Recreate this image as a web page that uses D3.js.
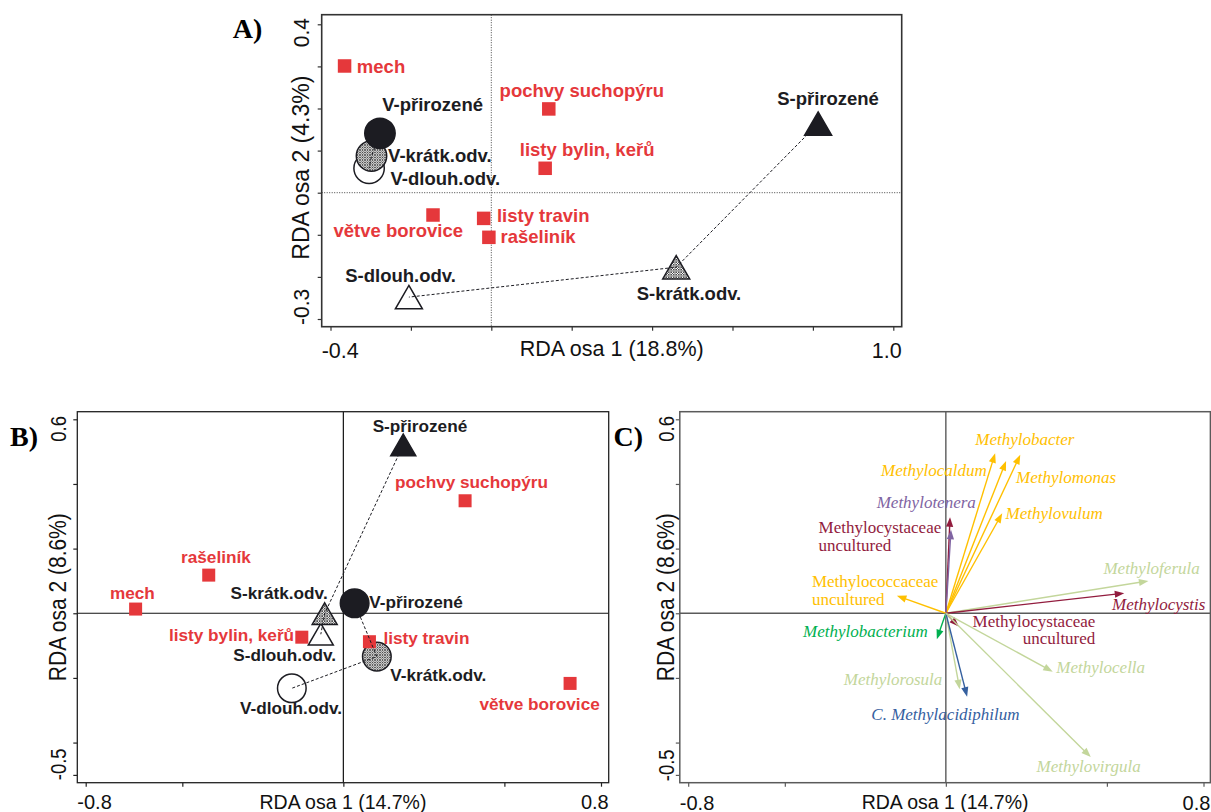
<!DOCTYPE html>
<html>
<head>
<meta charset="utf-8">
<script src="https://cdn.jsdelivr.net/npm/d3@7"></script>
<style>
  html, body { margin: 0; padding: 0; background: #fff; }
  svg { display: block; }
</style>
</head>
<body>
<svg id="fig" width="1211" height="812"></svg>
<script>
// ---------- RDA scores ----------
const sampleNames = ["V-přirozené", "V-krátk.odv.", "V-dlouh.odv.", "S-přirozené", "S-krátk.odv.", "S-dlouh.odv."];
const samplesA_x = [-0.277, -0.298, -0.304, 0.813, 0.460, -0.205];
const samplesA_y = [0.141, 0.087, 0.058, 0.164, -0.177, -0.248];
const samplesB_x = [0.035, 0.104, -0.160, 0.186, -0.058, -0.070];
const samplesB_y = [0.031, -0.134, -0.232, 0.521, -0.001, -0.065];

const substrateNames = ["mech", "pochvy suchopýru", "listy bylin, keřů", "větve borovice", "listy travin", "rašeliník"];
const substratesA_x = [-0.365, 0.143, 0.134, -0.145, -0.019, -0.006];
const substratesA_y = [0.301, 0.199, 0.058, -0.053, -0.061, -0.106];
const substratesB_x = [-0.645, 0.378, -0.129, 0.704, 0.081, -0.418];
const substratesB_y = [0.013, 0.348, -0.074, -0.217, -0.088, 0.118];

const taxaNames = ["Methylobacter", "Methylocaldum", "Methylomonas", "Methylovulum",
  "Methylocystaceae uncultured", "Methylotenera", "Methylococcaceae uncultured",
  "Methyloferula", "Methylocystis", "Methylobacterium", "Methylocystaceae uncultured",
  "Methylocella", "Methylorosula", "C. Methylacidiphilum", "Methylovirgula"];
const taxaX = [0.231, 0.153, 0.187, 0.175, 0.013, 0.016, -0.152, 0.629, 0.554, -0.028, 0.040, 0.332, 0.043, 0.066, 0.450];
const taxaY = [0.490, 0.495, 0.471, 0.309, 0.297, 0.258, 0.054, 0.100, 0.062, -0.080, -0.041, -0.181, -0.235, -0.258, -0.445];
const taxaFamily = ["Methylococcaceae", "Methylococcaceae", "Methylococcaceae", "Methylococcaceae",
  "Methylocystaceae", "Methylophilaceae", "Methylococcaceae",
  "Beijerinckiaceae", "Methylocystaceae", "Methylobacteriaceae", "Methylocystaceae",
  "Beijerinckiaceae", "Beijerinckiaceae", "Methylacidiphilaceae", "Beijerinckiaceae"];

// axis ticks
const ticksA_x = [-0.4, -0.2, 0, 0.2, 0.4, 0.6, 0.8, 1.0];
const ticksA_y = [0.4, 0.3, 0.2, 0.1, 0, -0.1, -0.2, -0.3];
const ticksBC_x = [-0.8, -0.5, 0, 0.5, 0.8];
const ticksBC_y = [0.6, 0.4, 0.2, 0, -0.2, -0.4, -0.5];
const tickLabelsA = { x: ["-0.4", "1.0"], y: ["0.4", "-0.3"] };
const tickLabelsBC = { x: ["-0.8", "0.8"], y: ["0.6", "-0.5"] };
const axisTitles = {
  A: ["RDA osa 1 (18.8%)", "RDA osa 2 (4.3%)"],
  B: ["RDA osa 1 (14.7%)", "RDA osa 2 (8.6%)"],
  C: ["RDA osa 1 (14.7%)", "RDA osa 2 (8.6%)"]
};

// ---------- styling ----------
const SANS = "'Liberation Sans', Arial, Helvetica, sans-serif";
const SERIF = "'Liberation Serif', 'Times New Roman', Times, serif";
const RED = "#e5383b";
const INK = "#1c1c22";
const familyColor = d3.scaleOrdinal()
  .domain(["Methylococcaceae", "Methylophilaceae", "Methylocystaceae", "Beijerinckiaceae", "Methylobacteriaceae", "Methylacidiphilaceae"])
  .range(["#ffc000", "#8064a2", "#921c3e", "#c3d69b", "#00b050", "#35609f"]);

// label offsets (px from the mark) : [dx, dy, anchor]
const labelA = {
  "mech": [12.3, 6.7, "start"], "pochvy suchopýru": [-49.2, -12.3, "start"],
  "listy bylin, keřů": [-25.4, -12.3, "start"], "větve borovice": [-99.5, 22, "start"],
  "listy travin": [13.3, 3.4, "start"], "rašeliník": [11.6, 5.4, "start"],
  "V-přirozené": [2.3, -22.3, "start"], "V-krátk.odv.": [16.6, 6.3, "start"],
  "V-dlouh.odv.": [21.4, 16.7, "start"], "S-přirozené": [-41, -18.8, "start"],
  "S-krátk.odv.": [-39.5, 33, "start"], "S-dlouh.odv.": [-63.6, -15.3, "start"]
};
const labelB = {
  "mech": [-25.7, -9.7, "start"], "pochvy suchopýru": [-70, -12.7, "start"],
  "listy bylin, keřů": [-7.7, 3.4, "end"], "větve borovice": [-90.7, 26.7, "start"],
  "listy travin": [14, 2.3, "start"], "rašeliník": [-27.7, -12.3, "start"],
  "V-přirozené": [14.6, 5, "start"], "V-krátk.odv.": [13.3, 24.3, "start"],
  "V-dlouh.odv.": [-51.7, 25.7, "start"], "S-přirozené": [-30.6, -12.4, "start"],
  "S-krátk.odv.": [3, -14.4, "end"], "S-dlouh.odv.": [-87.5, 26.5, "start"]
};
// [dx, dy, anchor, lineGap] per taxon, in order
const labelC = [
  [-45, -10, "start"], [-8.3, 22.7, "end"], [10, 21.7, "start"], [3.3, 6, "start"],
  [-131.5, 15.4, "start", 18.3], [-74.3, -21.7, "start"], [-85, -9.3, "start", 18.3],
  [-45, -7, "start"], [-12.3, 16.7, "start"], [-9.1, -2, "end"], [136.6, 0.5, "end", 17],
  [3.6, 1, "start"], [-17.4, -4.3, "end"], [-95.8, 23.3, "start"], [-54.3, 14.4, "start"]
];

const svg = d3.select("#fig");
const defs = svg.append("defs");
const pat = defs.append("pattern").attr("id", "hatch")
  .attr("patternUnits", "userSpaceOnUse").attr("width", 2.5).attr("height", 2.5);
pat.append("rect").attr("width", 2.5).attr("height", 2.5).attr("fill", "#ffffff");
pat.append("path").attr("d", "M0,0 L2.5,2.5 M2.5,0 L0,2.5")
  .attr("stroke", "#3a3a3a").attr("stroke-width", 0.75);

// ---------- shared helpers ----------
function vText(g, x, y, txt, anchor, size, stretch) {
  g.append("text")
    .attr("transform", `translate(${x},${y}) rotate(-90) scale(1,${stretch})`)
    .attr("text-anchor", anchor)
    .attr("font-family", SANS).attr("font-size", size).attr("fill", "#111")
    .text(txt);
}

function frame(g, cfg) {
  const { x, y, box } = cfg;
  g.append("rect")
    .attr("x", box[0]).attr("y", box[1])
    .attr("width", box[2] - box[0]).attr("height", box[3] - box[1])
    .attr("fill", "none").attr("stroke", cfg.boxColor).attr("stroke-width", cfg.boxWidth);

  const ax = g.append("g").attr("transform", `translate(0,${box[3]})`)
    .call(d3.axisBottom(x).tickValues(cfg.xt).tickSize(4).tickFormat(""));
  ax.select(".domain").remove();
  ax.selectAll("line").attr("stroke", cfg.boxColor).attr("stroke-width", 1.2);

  const ay = g.append("g").attr("transform", `translate(${box[0]},0)`)
    .call(d3.axisLeft(y).tickValues(cfg.yt).tickSize(4).tickFormat(""));
  ay.select(".domain").remove();
  ay.selectAll("line").attr("stroke", cfg.boxColor).attr("stroke-width", 1.2);

  // end labels of the horizontal axis
  g.append("text").attr("x", box[0]).attr("y", cfg.xLabelY)
    .attr("font-family", SANS).attr("font-size", cfg.tickSize).attr("fill", "#111")
    .text(cfg.xl[0]);
  g.append("text").attr("x", box[2]).attr("y", cfg.xLabelY).attr("text-anchor", "end")
    .attr("font-family", SANS).attr("font-size", cfg.tickSize).attr("fill", "#111")
    .text(cfg.xl[1]);
  g.append("text").attr("x", (box[0] + box[2]) / 2).attr("y", cfg.xTitleY).attr("text-anchor", "middle")
    .attr("font-family", SANS).attr("font-size", cfg.titleSize).attr("fill", "#111")
    .text(cfg.titles[0]);

  // end labels and title of the vertical axis
  vText(g, cfg.yLabelX, box[1] + cfg.yPadTop, cfg.yl[0], "end", cfg.yTickSize, cfg.stretch);
  vText(g, cfg.yLabelX, box[3] - cfg.yPadBottom, cfg.yl[1], "start", cfg.yTickSize, cfg.stretch);
  vText(g, cfg.yLabelX, (box[1] + box[3]) / 2 + (cfg.yTitleShift || 0), cfg.titles[1], "middle", cfg.yTitleSize, cfg.stretch);
}

function panelLetter(txt, x, y) {
  svg.append("text").attr("x", x).attr("y", y)
    .attr("font-family", SERIF).attr("font-weight", "bold").attr("font-size", 28)
    .attr("fill", "#000").text(txt);
}

function triPath(side) {
  const h = side * 0.866;
  return `M0,${-h / 2} L${side / 2},${h / 2} L${-side / 2},${h / 2} Z`;
}

function symbolFill(name) {
  if (name.includes("přirozené")) return INK;
  if (name.includes("krátk")) return "url(#hatch)";
  return "#ffffff";
}

// ordination biplot of samples (circles / triangles) and substrates (squares)
function ordination(g, x, y, sx, sy, ux, uy, lab, sz) {
  const samples = sampleNames.map((n, i) => ({ n, px: x(sx[i]), py: y(sy[i]) }));
  const subs = substrateNames.map((n, i) => ({ n, px: x(ux[i]), py: y(uy[i]) }));

  // open first, hatched next, solid on top
  const order = [2, 5, 1, 4, 0, 3];
  order.forEach(i => {
    const s = samples[i];
    if (s.n.startsWith("V-")) {
      g.append("circle").attr("cx", s.px).attr("cy", s.py).attr("r", sz.r)
        .attr("fill", symbolFill(s.n)).attr("stroke", INK).attr("stroke-width", 1.5);
    } else {
      g.append("path").attr("d", triPath(sz.side))
        .attr("transform", `translate(${s.px},${s.py})`)
        .attr("fill", symbolFill(s.n)).attr("stroke", INK).attr("stroke-width", 1.5)
        .attr("stroke-linejoin", "miter");
    }
  });

  g.selectAll(null).data(subs).enter().append("rect")
    .attr("x", d => d.px - sz.sq / 2).attr("y", d => d.py - sz.sq / 2)
    .attr("width", sz.sq).attr("height", sz.sq).attr("fill", RED);

  // trajectories natural -> short -> long abandonment
  [[0, 1, 2], [3, 4, 5]].forEach(idx => {
    g.append("path")
      .attr("d", d3.line()(idx.map(i => [samples[i].px, samples[i].py])))
      .attr("fill", "none").attr("stroke", INK).attr("stroke-width", 1)
      .attr("stroke-dasharray", "3,2");
  });

  const put = (d, color) => {
    const o = lab[d.n];
    g.append("text").attr("x", d.px + o[0]).attr("y", d.py + o[1])
      .attr("text-anchor", o[2])
      .attr("font-family", SANS).attr("font-weight", "bold").attr("font-size", sz.font)
      .attr("fill", color).text(d.n);
  };
  subs.forEach(d => put(d, RED));
  samples.forEach(d => put(d, INK));
}

// ---------- panel A ----------
{
  const g = svg.append("g");
  const x = d3.scaleLinear().domain([-0.4, 1.0]).range([330.5, 893.3]);
  const y = d3.scaleLinear().domain([0.4, -0.3]).range([24.3, 319.0]);
  const box = [321.7, 14.7, 901.7, 326.7];
  g.append("line").attr("x1", x(0)).attr("x2", x(0)).attr("y1", box[1]).attr("y2", box[3])
    .attr("stroke", "#444").attr("stroke-width", 1).attr("stroke-dasharray", "1,1.5");
  g.append("line").attr("x1", box[0]).attr("x2", box[2]).attr("y1", y(0)).attr("y2", y(0))
    .attr("stroke", "#444").attr("stroke-width", 1).attr("stroke-dasharray", "1,1.5");
  frame(g, {
    x, y, box, xt: ticksA_x, yt: ticksA_y, xl: tickLabelsA.x, yl: tickLabelsA.y,
    titles: axisTitles.A, boxColor: "#333", boxWidth: 1.6,
    tickSize: 21.5, titleSize: 21.5, yTickSize: 21, yTitleSize: 23, stretch: 1.05,
    xLabelY: 358, xTitleY: 356, yLabelX: 308.5, yPadTop: 3.3, yPadBottom: 1.7, yTitleShift: -3
  });
  ordination(g, x, y, samplesA_x, samplesA_y, substratesA_x, substratesA_y, labelA,
    { r: 15.2, side: 27, sq: 13.5, font: 18.5 });
  panelLetter("A)", 232.7, 37.7);
}

// ---------- panel B ----------
{
  const g = svg.append("g");
  const x = d3.scaleLinear().domain([-0.8, 0.8]).range([85.7, 601.0]);
  const y = d3.scaleLinear().domain([0.6, -0.5]).range([419.3, 774.9]);
  const box = [77.3, 411.7, 608.7, 782.7];
  g.append("line").attr("x1", x(0)).attr("x2", x(0)).attr("y1", box[1]).attr("y2", box[3])
    .attr("stroke", "#111").attr("stroke-width", 1.2);
  g.append("line").attr("x1", box[0]).attr("x2", box[2]).attr("y1", y(0)).attr("y2", y(0))
    .attr("stroke", "#111").attr("stroke-width", 1.2);
  frame(g, {
    x, y, box, xt: ticksBC_x, yt: ticksBC_y, xl: tickLabelsBC.x, yl: tickLabelsBC.y,
    titles: axisTitles.B, boxColor: "#222", boxWidth: 1.3,
    tickSize: 20, titleSize: 19.5, yTickSize: 18.5, yTitleSize: 21, stretch: 1.15,
    xLabelY: 809, xTitleY: 808.5, yLabelX: 65.5, yPadTop: 4.3, yPadBottom: 2.5
  });
  ordination(g, x, y, samplesB_x, samplesB_y, substratesB_x, substratesB_y, labelB,
    { r: 14.3, side: 25, sq: 13, font: 17.2 });
  panelLetter("B)", 10, 446);
}

// ---------- panel C ----------
{
  const g = svg.append("g");
  const x = d3.scaleLinear().domain([-0.8, 0.8]).range([688.2, 1203.5]);
  const y = d3.scaleLinear().domain([0.6, -0.5]).range([419.3, 774.9]);
  const box = [679.8, 411.7, 1210.4, 782.7];
  const AX = "#5a5a5a";
  g.append("line").attr("x1", x(0)).attr("x2", x(0)).attr("y1", box[1]).attr("y2", box[3])
    .attr("stroke", AX).attr("stroke-width", 1.4);
  g.append("line").attr("x1", box[0]).attr("x2", box[2]).attr("y1", y(0)).attr("y2", y(0))
    .attr("stroke", AX).attr("stroke-width", 1.4);
  frame(g, {
    x, y, box, xt: ticksBC_x, yt: ticksBC_y, xl: tickLabelsBC.x, yl: tickLabelsBC.y,
    titles: axisTitles.C, boxColor: AX, boxWidth: 1.5,
    tickSize: 20, titleSize: 19.5, yTickSize: 18.5, yTitleSize: 21, stretch: 1.15,
    xLabelY: 809.5, xTitleY: 808.5, yLabelX: 673.5, yPadTop: 4.3, yPadBottom: 1.5
  });

  const ox = x(0), oy = y(0);
  const taxa = taxaNames.map((n, i) => ({
    n, i, tx: x(taxaX[i]), ty: y(taxaY[i]), c: familyColor(taxaFamily[i])
  }));
  const headLen = 9.5, headHalf = 3.6;
  taxa.forEach(d => {
    const dx = d.tx - ox, dy = d.ty - oy;
    const L = Math.hypot(dx, dy), ux = dx / L, uy = dy / L;
    const bx = d.tx - ux * headLen, by = d.ty - uy * headLen;
    g.append("line").attr("x1", ox).attr("y1", oy).attr("x2", bx + ux).attr("y2", by + uy)
      .attr("stroke", d.c).attr("stroke-width", 1.4);
    g.append("path")
      .attr("d", `M${d.tx},${d.ty} L${bx - uy * headHalf},${by + ux * headHalf} L${bx + uy * headHalf},${by - ux * headHalf} Z`)
      .attr("fill", d.c);
  });

  taxa.forEach(d => {
    const o = labelC[d.i];
    const twoLine = d.n.endsWith(" uncultured");
    const lines = twoLine ? [d.n.replace(" uncultured", ""), "uncultured"] : [d.n];
    lines.forEach((t, k) => {
      g.append("text")
        .attr("x", d.tx + o[0]).attr("y", d.ty + o[1] + k * (o[3] || 0))
        .attr("text-anchor", o[2])
        .attr("font-family", SERIF).attr("font-size", 17)
        .attr("font-style", twoLine ? "normal" : "italic")
        .attr("fill", d.c).text(t);
    });
  });
  panelLetter("C)", 613.5, 446);
}
</script>
</body>
</html>
